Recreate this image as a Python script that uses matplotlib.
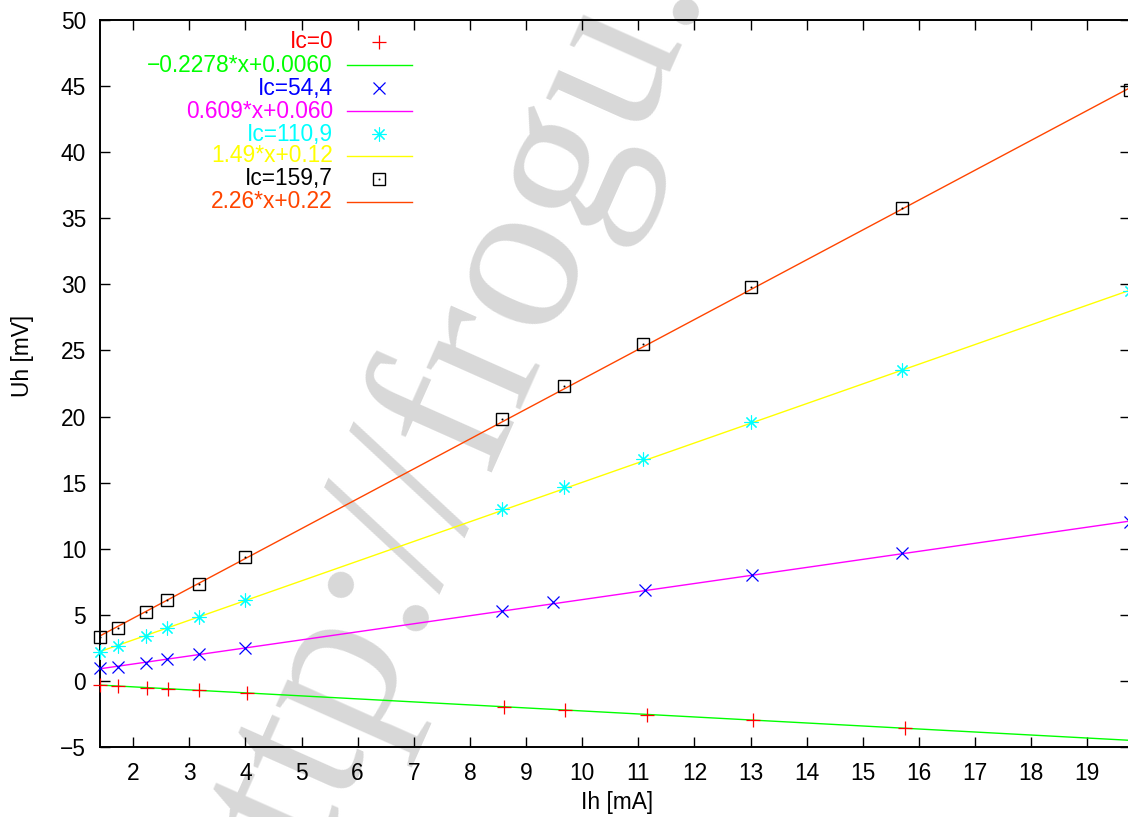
import matplotlib
matplotlib.use('Agg')
import matplotlib.pyplot as plt
import numpy as np

plt.rcParams['font.family'] = ['Liberation Sans', 'DejaVu Sans']

# measured points, Ih [mA] vs Uh [mV]
x_ic0 = [1.41, 1.73, 2.25, 2.63, 3.18, 4.03, 8.61, 9.70, 11.15, 13.05, 15.75]
y_ic0 = [-0.30, -0.38, -0.50, -0.60, -0.70, -0.90, -1.95, -2.20, -2.55, -2.95, -3.55]

x_ic54 = [1.41, 1.73, 2.23, 2.61, 3.18, 4.00, 8.57, 9.48, 11.12, 13.02, 15.70, 19.75]
y_ic54 = [0.95, 1.06, 1.36, 1.66, 2.02, 2.50, 5.30, 6.00, 6.85, 8.05, 9.68, 12.05]

x_ic110 = [1.41, 1.73, 2.23, 2.61, 3.18, 4.00, 8.57, 9.68, 11.09, 13.00, 15.70, 19.75]
y_ic110 = [2.20, 2.65, 3.40, 4.00, 4.85, 6.10, 13.00, 14.70, 16.80, 19.60, 23.55, 29.50]

x_ic159 = [1.41, 1.73, 2.23, 2.61, 3.18, 4.00, 8.57, 9.68, 11.09, 13.00, 15.70, 19.75]
y_ic159 = [3.33, 4.00, 5.20, 6.10, 7.35, 9.35, 19.80, 22.30, 25.50, 29.80, 35.80, 44.70]

# fitted lines (slope, intercept) as given in the key
fit_coefs = [(-0.2278, 0.0060), (0.609, 0.060), (1.49, 0.12), (2.26, 0.22)]
fit_labels = ['\u22120.2278*x+0.0060', '0.609*x+0.060', '1.49*x+0.12', '2.26*x+0.22']
fit_colors = ['#00ff00', '#ff00ff', '#ffff00', '#ff4500']

point_labels = ['Ic=0', 'Ic=54,4', 'Ic=110,9', 'Ic=159,7']
point_colors = ['#ff0000', '#0000ff', '#00ffff', '#000000']

xmin, xmax = 1.41, 19.75
fs = 16.4

fig = plt.figure(figsize=(11.28, 8.17), dpi=100)
ax = fig.add_axes([100 / 1128, 70 / 817, 1029.5 / 1128, 727 / 817])

# watermark
ax.text(440 / 1128, 1 - 453 / 817, 'http://frogu.', transform=fig.transFigure,
        rotation=66, rotation_mode='anchor', ha='center', va='center',
        fontsize=160, family='Liberation Serif', color='#d8d8d8',
        zorder=0.5, clip_on=False)

xs = np.array([xmin, xmax])
for (a, b), c in zip(fit_coefs, fit_colors):
    ax.plot(xs, a * xs + b, color=c, lw=1.0, zorder=2)

mk = dict(ls='none', clip_on=False, zorder=3)
ax.plot(x_ic0, y_ic0, marker='+', ms=10, mew=0.9, color=point_colors[0], **mk)
ax.plot(x_ic54, y_ic54, marker='x', ms=8.5, mew=0.9, color=point_colors[1], **mk)
ax.plot(x_ic110, y_ic110, marker=(8, 2, 0), ms=10, mew=0.8, color=point_colors[2], **mk)
ax.plot(x_ic159, y_ic159, marker='s', ms=9, mew=1.0, mfc='none', color=point_colors[3], **mk)
ax.plot(x_ic159, y_ic159, marker='s', ms=0.8, mew=0.5, color='#000000', **mk)

ax.set_xlim(xmin, xmax)
ax.set_ylim(-5, 50)
ax.set_xticks(np.arange(2, 20, 1))
ax.set_yticks(np.arange(-5, 51, 5))
ax.tick_params(direction='in', length=7, width=1.0, labelsize=fs,
               top=True, right=True)
ax.tick_params(axis='x', pad=11)
ax.tick_params(axis='y', pad=10)
for s in ax.spines.values():
    s.set_linewidth(1.4)

ax.set_xlabel('Ih [mA]', fontsize=fs, va='center')
ax.set_ylabel('Uh [mV]', fontsize=fs, va='center')
ax.xaxis.set_label_coords((617 - 100) / 1029.5, -(802 - 747) / 727)
ax.yaxis.set_label_coords((22 - 100) / 1029.5, (747 - 356) / 727)

# key, gnuplot style: right aligned text, sample on the right
row_y = [42, 65, 88, 111, 134, 156, 179, 202]
tx = (333 - 100) / 1029.5
s0, s1 = (347 - 100) / 1029.5, (412 - 100) / 1029.5
sm = (379 - 100) / 1029.5
markers = [dict(marker='+', ms=10, mew=0.9), dict(marker='x', ms=8.5, mew=0.9),
           dict(marker=(8, 2, 0), ms=10, mew=0.8), dict(marker='s', ms=9, mfc='none', mew=1.0)]
for i in range(4):
    yp = (747 - row_y[2 * i]) / 727
    ax.text(tx, yp, point_labels[i], transform=ax.transAxes, ha='right', va='center',
            fontsize=fs, color=point_colors[i])
    ax.plot([sm], [yp], transform=ax.transAxes, ls='none',
            color=point_colors[i], **markers[i])
    if i == 3:
        ax.plot([sm], [yp], transform=ax.transAxes, ls='none', marker='s', ms=0.8,
                mew=0.5, color='#000000')
    yl = (747 - row_y[2 * i + 1]) / 727
    ax.text(tx, yl, fit_labels[i], transform=ax.transAxes, ha='right', va='center',
            fontsize=fs, color=fit_colors[i])
    ax.plot([s0, s1], [yl, yl], transform=ax.transAxes, color=fit_colors[i], lw=1.0)

fig.savefig('out.png', dpi=100)
